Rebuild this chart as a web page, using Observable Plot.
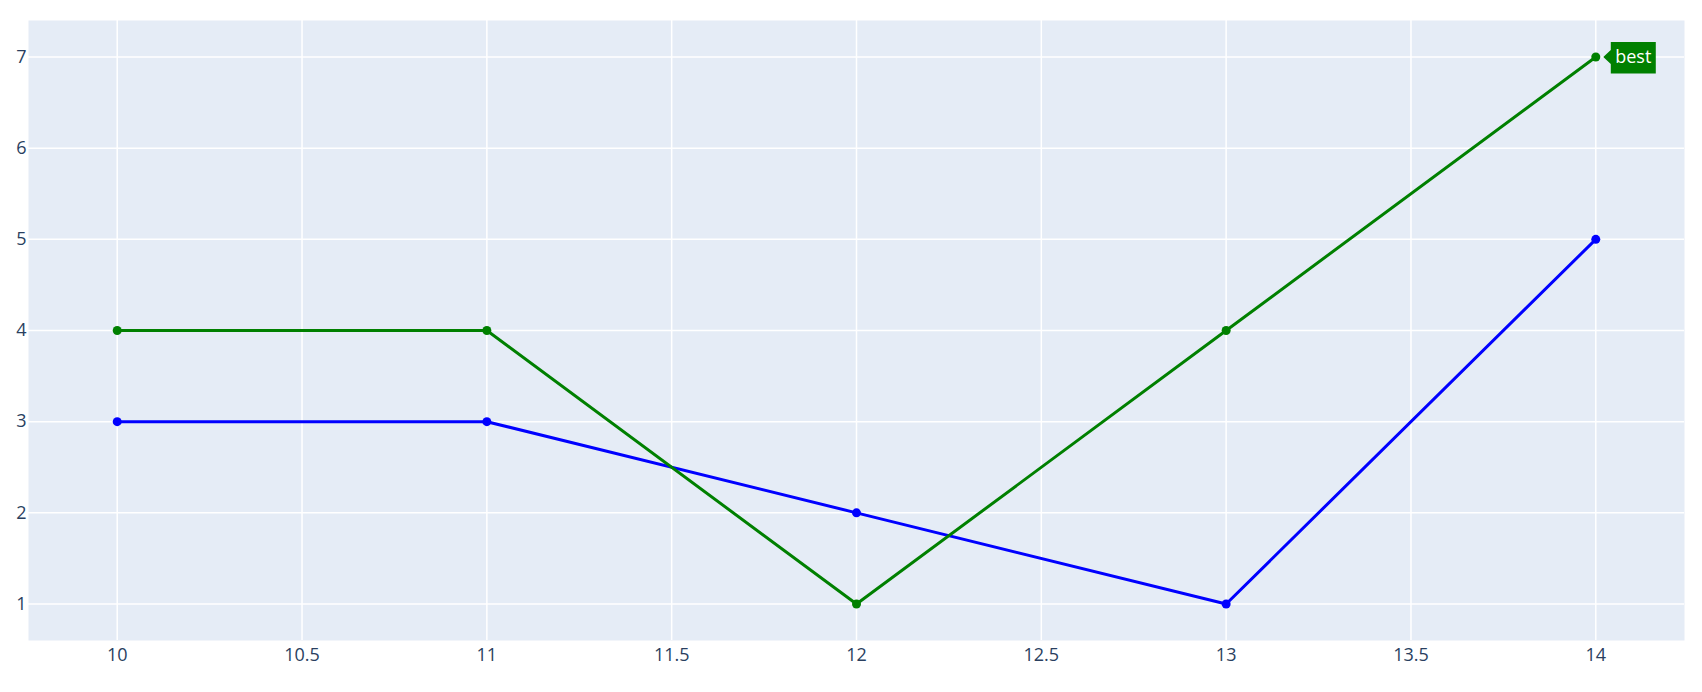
<!DOCTYPE html>
<html><head><meta charset="utf-8">
<script src="https://cdn.jsdelivr.net/npm/d3@7"></script>
<script src="https://cdn.jsdelivr.net/npm/@observablehq/plot@0.6"></script>
<style>html,body{margin:0;padding:0;background:#fff}</style>
</head><body><div id="chart"></div>
<script>
const xValues = [10, 11, 12, 13, 14];
const greenValues = [4, 4, 1, 4, 7];
const blueValues = [3, 3, 2, 1, 5];
const xTicks = [10, 10.5, 11, 11.5, 12, 12.5, 13, 13.5, 14];
const yTicks = [1, 2, 3, 4, 5, 6, 7];
const annotationText = "best";
const annotationIndex = 4;

const blueData = xValues.map((x, i) => ({x, y: blueValues[i]}));
const greenData = xValues.map((x, i) => ({x, y: greenValues[i]}));
const annotation = [{x: xValues[annotationIndex], y: greenValues[annotationIndex], label: annotationText}];
const fmt = d => String(d);

// callout shape (box with arrow pointing left toward the point), drawn relative to the point
const calloutSymbol = {
  draw(context) {
    context.moveTo(7.5, 0);
    context.lineTo(15, -7);
    context.lineTo(15, -15);
    context.lineTo(60, -15);
    context.lineTo(60, 16.5);
    context.lineTo(15, 16.5);
    context.lineTo(15, 7);
    context.closePath();
  }
};

const chart = Plot.plot({
  width: 1702,
  height: 692,
  marginLeft: 28,
  marginRight: 18,
  marginTop: 20,
  marginBottom: 52,
  style: {fontFamily: "'Open Sans', verdana, arial, sans-serif", fontSize: "18px", color: "#2a3f5f", background: "#fff"},
  x: {domain: [9.76, 14.24]},
  y: {domain: [0.6, 7.4]},
  marks: [
    Plot.frame({fill: "#E5ECF6", stroke: "none"}),
    Plot.gridX(xTicks, {stroke: "#ffffff", strokeOpacity: 1, strokeWidth: 1.5}),
    Plot.gridY(yTicks, {stroke: "#ffffff", strokeOpacity: 1, strokeWidth: 1.5}),
    Plot.axisX(xTicks, {tickSize: 0, tickPadding: 8, label: null, fontSize: 18, tickFormat: fmt}),
    Plot.axisY(yTicks, {tickSize: 0, tickPadding: 2, label: null, fontSize: 18, tickFormat: fmt}),
    Plot.line(blueData, {x: "x", y: "y", stroke: "#0000ff", strokeWidth: 3}),
    Plot.dot(blueData, {x: "x", y: "y", fill: "#0000ff", r: 4.5}),
    Plot.line(greenData, {x: "x", y: "y", stroke: "#008000", strokeWidth: 3}),
    Plot.dot(greenData, {x: "x", y: "y", fill: "#008000", r: 4.5}),
    Plot.dot(annotation, {x: "x", y: "y", symbol: calloutSymbol, r: 5, fill: "#008000", stroke: "none"}),
    Plot.text(annotation, {x: "x", y: "y", text: "label", dx: 37.5, dy: 0.5, fill: "#ffffff", fontSize: 18, textAnchor: "middle", lineAnchor: "middle"})
  ]
});
document.getElementById("chart").appendChild(chart);
</script>
</body></html>
